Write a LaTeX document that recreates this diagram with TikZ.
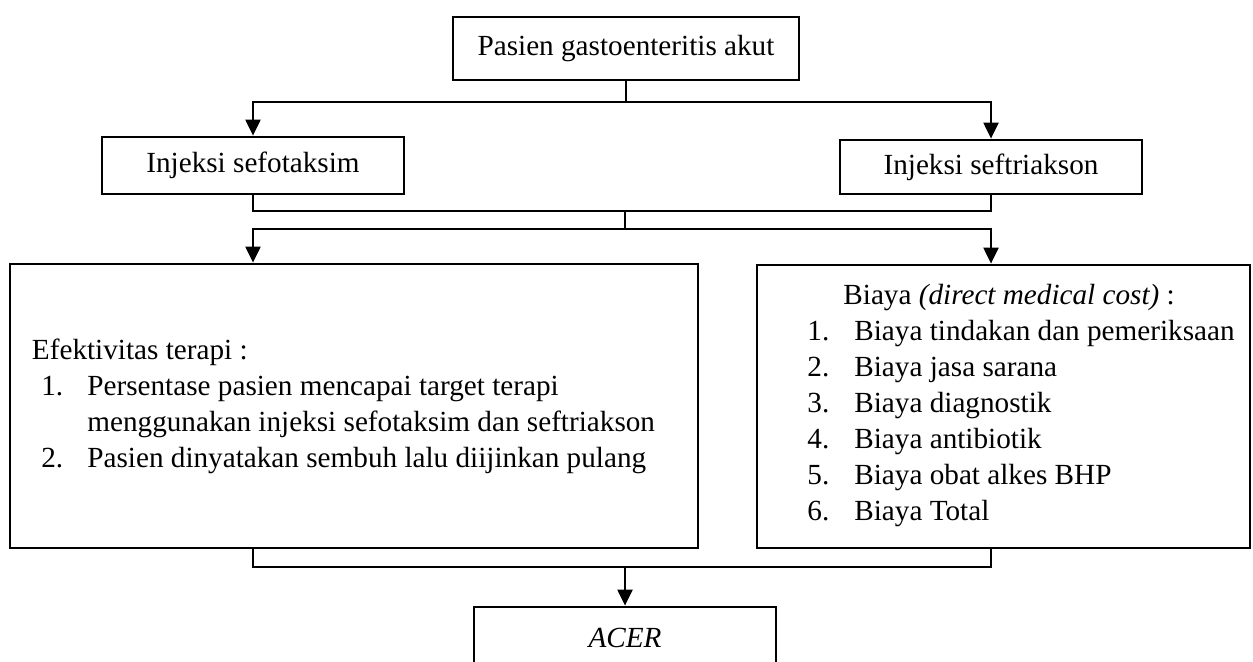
\documentclass[tikz,border=0pt]{standalone}
\usepackage{fontspec}
\setmainfont{Liberation Serif}
\usetikzlibrary{arrows.meta,calc}
\begin{document}
\begin{tikzpicture}[x=0.5pt,y=-0.5pt,
  box/.style={draw,line width=1.4pt,inner sep=0pt,align=center,font=\fontsize{14.6}{18}\selectfont},
  txt/.style={inner sep=0pt,align=left,anchor=west,font=\fontsize{14.6}{18}\selectfont},
  thinline/.style={line width=0.6pt},
  arrowline/.style={line width=1.1pt,-{Triangle[length=8pt,width=7.5pt]}},
]
\useasboundingbox (0,0) rectangle (1253,661);
\node[box,minimum width=173pt,minimum height=31.5pt] (top) at (626,48.5) {Pasien gastoenteritis akut};
\node[box,minimum width=151pt,minimum height=28.5pt] (sefo) at (253,165.5) {Injeksi sefotaksim};
\node[box,minimum width=151pt,minimum height=27pt] (seft) at (991,167) {Injeksi seftriakson};
\node[box,minimum width=344pt,minimum height=142pt] (left) at (354,406) {};
\node[box,minimum width=246.5pt,minimum height=141.5pt] (right) at (1003.5,406.5) {};
\node[box,minimum width=151pt,minimum height=31pt] (acer) at (625,638) {\textit{ACER}};

\node[txt] (efek) at (31.6,406) {Efektivitas terapi :\\
\hspace*{4.7pt}\makebox[23pt][l]{1.}Persentase pasien mencapai target terapi\\
\hspace*{27.7pt}menggunakan injeksi sefotaksim dan seftriakson\\
\hspace*{4.7pt}\makebox[23pt][l]{2.}Pasien dinyatakan sembuh lalu diijinkan pulang};

\node[txt] (biaya) at (807,406) {\hspace*{18pt}Biaya \textit{(direct medical cost)} :\\
\makebox[23.5pt][l]{1.}Biaya tindakan dan pemeriksaan\\
\makebox[23.5pt][l]{2.}Biaya jasa sarana\\
\makebox[23.5pt][l]{3.}Biaya diagnostik\\
\makebox[23.5pt][l]{4.}Biaya antibiotik\\
\makebox[23.5pt][l]{5.}Biaya obat alkes BHP\\
\makebox[23.5pt][l]{6.}Biaya Total};

\coordinate (j1) at (626,102);
\coordinate (j2) at (625,211);
\coordinate (j3) at (625,229);
\coordinate (j4) at (625,567);

\draw[thinline] (top.south) -- (j1);
\draw[arrowline] (j1) -| (sefo.north);
\draw[arrowline] (j1) -| (seft.north);

\draw[thinline] (sefo.south) |- (j2) -| (seft.south);
\draw[thinline] (j2) -- (j3);
\draw[arrowline] (j3) -| (sefo.south |- left.north);
\draw[arrowline] (j3) -| (seft.south |- right.north);

\draw[thinline] (sefo.south |- left.south) |- (j4) -| (seft.south |- right.south);
\draw[arrowline] (j4) -- (acer.north);
\end{tikzpicture}
\end{document}
